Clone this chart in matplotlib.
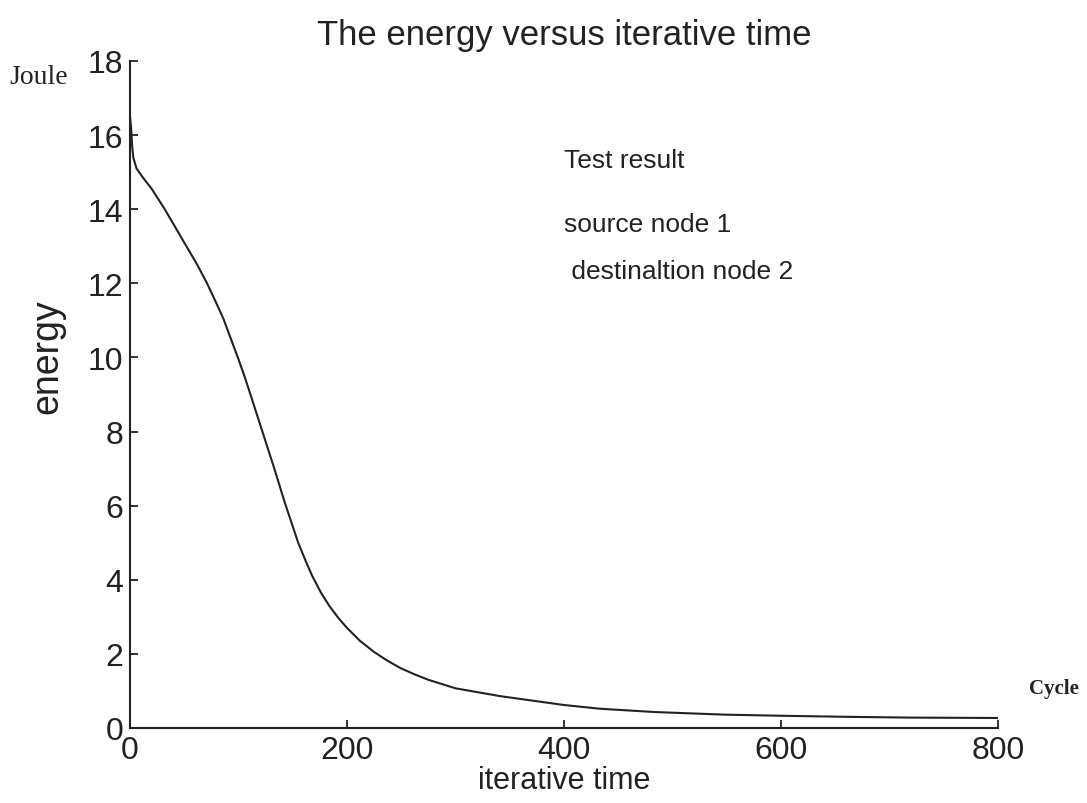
import numpy as np
import matplotlib.pyplot as plt

# energy curve
cycles = [0, 1, 2, 3, 6, 12, 20, 32, 52, 62, 71, 79, 86, 93, 100, 106, 111,
          122, 133, 143, 155, 162, 168, 176, 184, 192, 200, 212, 225, 237,
          249, 262, 275, 300, 341, 400, 433, 484, 548, 600, 664, 720, 800]
energy = [16.5, 16.2, 15.7, 15.4, 15.1, 14.85, 14.55, 14.0, 13.0, 12.5, 12.0,
          11.5, 11.05, 10.5, 9.95, 9.45, 9.0, 8.0, 7.0, 6.05, 5.0, 4.5, 4.1,
          3.65, 3.28, 2.97, 2.7, 2.35, 2.05, 1.82, 1.62, 1.45, 1.3, 1.07,
          0.86, 0.62, 0.52, 0.43, 0.36, 0.33, 0.30, 0.28, 0.27]
xticks = [0, 200, 400, 600, 800]
yticks = [0, 2, 4, 6, 8, 10, 12, 14, 16, 18]
notes = ["Test result", "source node 1", " destinaltion node 2"]

plt.rcParams['font.family'] = ['Liberation Sans', 'DejaVu Sans']

fig = plt.figure(figsize=(10.87, 8.04), dpi=100)
ax = fig.add_axes([0.1196, 0.0933, 0.7986, 0.8296])

ax.plot(cycles, energy, color='#222222', linewidth=1.5)

ax.set_xlim(0, 800)
ax.set_ylim(0, 18)
ax.set_xticks(xticks)
ax.set_yticks(yticks)
ax.spines['top'].set_visible(False)
ax.spines['right'].set_visible(False)
for s in ('left', 'bottom'):
    ax.spines[s].set_linewidth(1.5)
    ax.spines[s].set_color('#222222')
ax.tick_params(direction='in', length=6, width=1.3, labelsize=23,
               colors='#222222', pad=5)

ax.set_title("The energy versus iterative time", fontsize=25, pad=12,
             color='#222222')
ax.set_xlabel("iterative time", fontsize=22, labelpad=0, color='#222222')
ax.set_ylabel("energy", fontsize=27, color='#222222')
ax.yaxis.set_label_coords(-0.074, 0.558)

# free text inside the plot
ax.text(400, 15.15, notes[0], fontsize=19, color='#222222')
ax.text(400, 13.4, notes[1], fontsize=19, color='#222222')
ax.text(400, 12.15, notes[2], fontsize=19, color='#222222')

fig.text(0.009, 0.895, "Joule", family='Liberation Serif', fontsize=20,
         color='#222222')
fig.text(0.947, 0.137, "Cycle", family='Liberation Serif', fontsize=15,
         fontweight='bold', color='#222222')

fig.savefig("out.png", dpi=100)
